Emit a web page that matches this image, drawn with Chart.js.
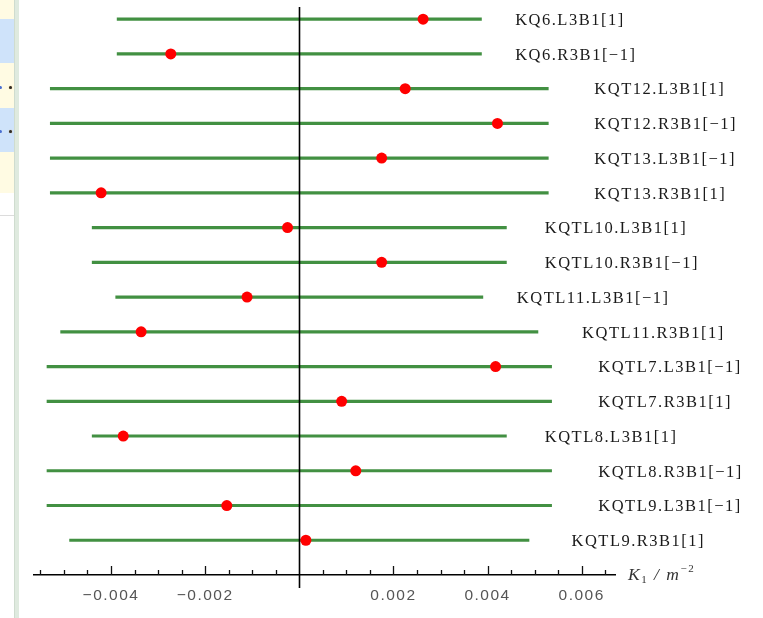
<!DOCTYPE html>
<html>
<head>
<meta charset="utf-8">
<script src="https://cdn.jsdelivr.net/npm/chart.js@4/dist/chart.umd.min.js"></script>
<style>
  html, body { margin: 0; padding: 0; background: #fff; }
  #wrap { position: relative; width: 763px; height: 618px; overflow: hidden; }
  .band { position: absolute; left: 0; width: 14px; }
  .dot { position: absolute; width: 3px; height: 3px; border-radius: 50%; }
  #rail { position: absolute; left: 14px; top: 0; width: 5px; height: 618px;
          background: #dfeadf; border-left: 1px solid #cfdccf; box-sizing: border-box; }
  #c { position: absolute; left: 0; top: 0; }
</style>
</head>
<body>
<div id="wrap">
  <!-- side panel decoration -->
  <div class="band" style="top:0;height:19px;background:#fffbe3"></div>
  <div class="band" style="top:19px;height:44px;background:#cfe3fa"></div>
  <div class="band" style="top:63px;height:45px;background:#fffbe3"></div>
  <div class="band" style="top:108px;height:44px;background:#cfe3fa"></div>
  <div class="band" style="top:152px;height:41px;background:#fffbe3"></div>
  <div class="band" style="top:215px;height:1px;background:#dcdcdc"></div>
  <div class="dot" style="left:-1px;top:86px;background:#4a6fd0"></div>
  <div class="dot" style="left:9px;top:86px;background:#2a2a2a;box-shadow:0 0 1px #c88a30"></div>
  <div class="dot" style="left:-1px;top:130px;background:#4a6fd0"></div>
  <div class="dot" style="left:9px;top:130px;background:#2a2a2a;box-shadow:0 0 1px #c88a30"></div>
  <div id="rail"></div>
  <canvas id="c" width="763" height="618"></canvas>
</div>
<script>
// Knob names, one per row (top to bottom)
const coefficients = [
  'KQ6.L3B1[1]', 'KQ6.R3B1[\u22121]',
  'KQT12.L3B1[1]', 'KQT12.R3B1[\u22121]',
  'KQT13.L3B1[\u22121]', 'KQT13.R3B1[1]',
  'KQTL10.L3B1[1]', 'KQTL10.R3B1[\u22121]',
  'KQTL11.L3B1[\u22121]', 'KQTL11.R3B1[1]',
  'KQTL7.L3B1[\u22121]', 'KQTL7.R3B1[1]',
  'KQTL8.L3B1[1]', 'KQTL8.R3B1[\u22121]',
  'KQTL9.L3B1[\u22121]', 'KQTL9.R3B1[1]'
];

// Current K1 setting of each knob (m^-2)
const currentK1 = [
  0.00263, -0.00273,
  0.00225, 0.00421,
  0.00175, -0.00421,
  -0.00025, 0.00175,
  -0.00111, -0.00336,
  0.00417, 0.00090,
  -0.00374, 0.00120,
  -0.00154, 0.00014
];

// Allowed range of each knob (m^-2)
const lowerLimit = [
  -0.00387, -0.00387,
  -0.00529, -0.00529,
  -0.00529, -0.00529,
  -0.00440, -0.00440,
  -0.00390, -0.00507,
  -0.00536, -0.00536,
  -0.00440, -0.00536,
  -0.00536, -0.00488
];
const upperLimit = [
  0.00387, 0.00387,
  0.00529, 0.00529,
  0.00529, 0.00529,
  0.00440, 0.00440,
  0.00390, 0.00507,
  0.00536, 0.00536,
  0.00440, 0.00536,
  0.00536, 0.00488
];

// Axis extent and tick spacing
const xRange = [-0.005636, 0.006707];
const minorStep = 0.0005;
const majorStep = 0.002;

const rowIndex = coefficients.map((_, i) => i + 1);

const isMajor = v => Math.abs(v / majorStep - Math.round(v / majorStep)) < 1e-6;
const fmt = v => (v < 0 ? '\u2212' : '') + Math.abs(v).toFixed(3);

const decorations = {
  id: 'decorations',
  beforeDraw(chart) {
    chart.ctx.letterSpacing = '1.5px';
  },
  afterDatasetDraw(chart, args) {
    // the zero line sits above the ranges but beneath the markers
    if (args.meta.type !== 'bar') return;
    const { ctx, chartArea, scales: { x } } = chart;
    const x0 = Math.round(x.getPixelForValue(0)) + 0.5;
    ctx.save();
    ctx.strokeStyle = '#000';
    ctx.lineWidth = 1.6;
    ctx.beginPath();
    ctx.moveTo(x0, chartArea.top);
    ctx.lineTo(x0, chartArea.bottom + 13);
    ctx.stroke();
    ctx.restore();
  },
  afterDraw(chart) {
    const { ctx, chartArea, scales: { x, y } } = chart;
    ctx.save();
    // tick marks pointing into the plot
    ctx.strokeStyle = '#111';
    ctx.lineWidth = 1.3;
    x.ticks.forEach(t => {
      if (t.value === 0) return;
      const px = Math.round(x.getPixelForValue(t.value)) + 0.5;
      const len = isMajor(t.value) ? 9 : 5;
      ctx.beginPath();
      ctx.moveTo(px, chartArea.bottom);
      ctx.lineTo(px, chartArea.bottom - len);
      ctx.stroke();
    });

    // row names to the right of each range
    ctx.font = '16.5px "Liberation Serif", "Times New Roman", serif';
    ctx.letterSpacing = '1.5px';
    ctx.fillStyle = '#1a1a1a';
    ctx.textAlign = 'left';
    ctx.textBaseline = 'middle';
    coefficients.forEach((name, i) => {
      ctx.fillText(name, x.getPixelForValue(upperLimit[i] * 1.185), y.getPixelForValue(rowIndex[i]) + 1.5);
    });

    // axis title: K_1 / m^-2
    ctx.letterSpacing = '1.5px';
    ctx.fillStyle = '#333';
    ctx.textBaseline = 'alphabetic';
    let tx = chartArea.right + 13;
    const base = chartArea.bottom + 5;
    const put = (txt, font, dy) => {
      ctx.font = font;
      ctx.fillText(txt, tx, base + dy);
      tx += ctx.measureText(txt).width;
    };
    put('K', 'italic 17.5px "Liberation Serif", serif', 0);
    put('1', '11px "Liberation Serif", serif', 3);
    put(' / ', 'italic 17.5px "Liberation Serif", serif', 0);
    put('m', 'italic 17.5px "Liberation Serif", serif', 0);
    put('\u22122', '11px "Liberation Serif", serif', -8);
    ctx.restore();
    ctx.letterSpacing = '0px';
  }
};

new Chart(document.getElementById('c'), {
  type: 'bar',
  data: {
    datasets: [
      {
        type: 'bar',
        indexAxis: 'y',
        data: rowIndex.map((r, i) => ({ y: r, x: [lowerLimit[i], upperLimit[i]] })),
        backgroundColor: 'rgb(66,144,66)',
        borderWidth: 0,
        barThickness: 2.5,
        order: 2
      },
      {
        type: 'scatter',
        data: rowIndex.map((r, i) => ({ x: currentK1[i], y: r })),
        backgroundColor: '#ff0000',
        borderWidth: 0,
        pointRadius: 5.5,
        pointHoverRadius: 5.5,
        order: 1
      }
    ]
  },
  options: {
    responsive: false,
    devicePixelRatio: 1,
    animation: false,
    events: [],
    layout: { padding: { left: 34, right: 148, top: 7, bottom: 0 } },
    plugins: { legend: { display: false }, tooltip: { enabled: false } },
    scales: {
      x: {
        type: 'linear',
        position: 'bottom',
        offset: false,
        beginAtZero: false,
        min: xRange[0],
        max: xRange[1],
        border: { display: true, color: '#000', width: 1.5 },
        grid: { display: false, drawTicks: false, offset: false },
        ticks: {
          stepSize: minorStep,
          includeBounds: false,
          autoSkip: false,
          maxRotation: 0,
          padding: 11,
          color: '#555',
          font: { family: '"Liberation Sans", Arial, sans-serif', size: 15.5 },
          callback: v => (isMajor(v) && Math.abs(v) > 1e-9) ? fmt(v) : ''
        },
        afterFit(scale) { scale.height = 43; }
      },
      y: {
        type: 'linear',
        display: false,
        offset: false,
        grid: { offset: false },
        reverse: true,
        min: 0.65,
        max: 17
      }
    }
  },
  plugins: [decorations]
});
</script>
</body>
</html>
